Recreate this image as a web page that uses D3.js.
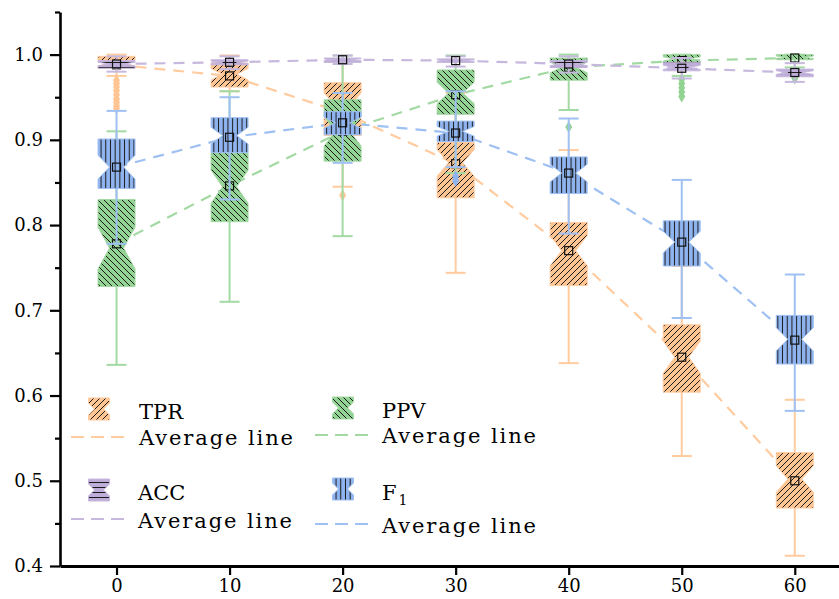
<!DOCTYPE html>
<head>
<meta charset="utf-8">
<title>Notched box plots</title>
<style>
  body { margin: 0; background: #fff; }
</style>
</head>
<body>
<svg width="839" height="599"></svg>
<script src="https://cdnjs.cloudflare.com/ajax/libs/d3/7.8.5/d3.min.js"></script>
<script>
// x categories
var rates = [0, 10, 20, 30, 40, 50, 60];
var yTicks = [0.4, 0.5, 0.6, 0.7, 0.8, 0.9, 1.0];

// box stats per rate: [lower whisker, q1, median, q3, upper whisker]
var tprStats = [
  [0.975, 0.984, 0.990, 0.998, 1.000],
  [0.957, 0.962, 0.977, 0.990, 0.999],
  [0.845, 0.905, 0.940, 0.967, 0.995],
  [0.744, 0.832, 0.873, 0.897, 0.955],
  [0.638, 0.729, 0.770, 0.803, 0.888],
  [0.529, 0.604, 0.645, 0.683, 0.752],
  [0.412, 0.468, 0.502, 0.533, 0.595]
];
var tprMean = [0.988, 0.975, 0.932, 0.872, 0.770, 0.645, 0.500];
var tprOutliers = [[0.970, 0.966, 0.962, 0.958, 0.953, 0.948, 0.944, 0.940, 0.937], [], [0.835], [], [], [], []];

var ppvStats = [
  [0.636, 0.728, 0.773, 0.830, 0.910],
  [0.710, 0.804, 0.845, 0.885, 0.957],
  [0.787, 0.875, 0.910, 0.947, 0.999],
  [0.861, 0.930, 0.955, 0.982, 0.999],
  [0.935, 0.970, 0.985, 0.996, 1.000],
  [0.975, 0.990, 0.995, 1.000, 1.000],
  [0.985, 0.994, 0.997, 1.000, 1.000]
];
var ppvMean = [0.778, 0.846, 0.910, 0.953, 0.985, 0.993, 0.996];
var ppvOutliers = [[], [], [], [], [0.915], [0.971, 0.966, 0.961, 0.956, 0.951], [0.976, 0.972]];

var accStats = [
  [0.980, 0.984, 0.989, 0.993, 0.998],
  [0.983, 0.988, 0.991, 0.994, 0.998],
  [0.989, 0.991, 0.994, 0.996, 0.999],
  [0.986, 0.991, 0.993, 0.995, 0.998],
  [0.979, 0.985, 0.989, 0.993, 0.998],
  [0.972, 0.981, 0.985, 0.991, 0.996],
  [0.968, 0.974, 0.979, 0.983, 0.990]
];
var accMean = [0.989, 0.991, 0.994, 0.993, 0.989, 0.984, 0.979];
var accOutliers = [[], [], [], [], [], [], []];

var f1Stats = [
  [0.778, 0.843, 0.868, 0.901, 0.934],
  [0.830, 0.885, 0.905, 0.926, 0.950],
  [0.873, 0.906, 0.920, 0.933, 0.955],
  [0.868, 0.898, 0.910, 0.922, 0.957],
  [0.790, 0.837, 0.861, 0.880, 0.925],
  [0.691, 0.752, 0.780, 0.805, 0.853],
  [0.582, 0.637, 0.666, 0.694, 0.742]
];
var f1Mean = [0.868, 0.903, 0.920, 0.908, 0.861, 0.780, 0.665];
var f1Outliers = [[], [], [], [0.857, 0.852], [], [], []];

var FONT = "DejaVu Serif";

var svg = d3.select("svg");

var x = d3.scaleLinear().domain([-5, 64]).range([60, 840]);
var y = d3.scaleLinear().domain([0.4, 1.05]).range([566, 12]);

var series = [
  { name: "TPR", stats: tprStats, mean: tprMean, out: tprOutliers, fill: "#ffc592", line: "#ffcb9f", hatch: "fwd" },
  { name: "PPV", stats: ppvStats, mean: ppvMean, out: ppvOutliers, fill: "#93d393", line: "#a3d9a3", hatch: "back" },
  { name: "ACC", stats: accStats, mean: accMean, out: accOutliers, fill: "#bfadd9", line: "#c7b8de", hatch: "horiz" },
  { name: "F1",  stats: f1Stats,  mean: f1Mean,  out: f1Outliers,  fill: "#8fb4ef", line: "#9fc0f3", hatch: "vert" }
];

// hatch patterns
var defs = svg.append("defs");
series.forEach(function(s) {
  var w = 6, h = 6, d;
  if (s.hatch == "fwd") d = "M-1,1 l2,-2 M0,6 l6,-6 M5,7 l2,-2";
  if (s.hatch == "back") d = "M-1,5 l2,2 M0,0 l6,6 M5,-1 l2,2";
  if (s.hatch == "horiz") { h = 5; d = "M0,2.5 h6"; }
  if (s.hatch == "vert") { w = 4.7; d = "M2.35,0 v6"; }
  var p = defs.append("pattern")
      .attr("id", "hatch-" + s.name)
      .attr("patternUnits", "userSpaceOnUse")
      .attr("width", w).attr("height", h);
  p.append("rect").attr("width", w).attr("height", h).attr("fill", s.fill);
  p.append("path").attr("d", d).attr("stroke", "#1a1a1a").attr("stroke-width", 1);
});

// average lines behind the boxes
var avgLine = d3.line()
    .x(function(d, i) { return x(rates[i]); })
    .y(function(d) { return y(d); });

series.forEach(function(s) {
  svg.append("path")
      .datum(s.mean)
      .attr("fill", "none")
      .attr("stroke", s.line)
      .attr("stroke-width", 2.2)
      .attr("stroke-dasharray", "11,8")
      .attr("d", avgLine);
});

var half = 18.5, inset = 11.5, cap = 10;

function notchPath(cx, st) {
  var q1 = st[1], med = st[2], q3 = st[3];
  var nh = 0.24 * (q3 - q1);
  var yT = y(q3), yB = y(q1), yM = y(med), yNt = y(med + nh), yNb = y(med - nh);
  return "M" + (cx - half) + "," + yT + "H" + (cx + half) + "V" + yNt +
    "L" + (cx + half - inset) + "," + yM + "L" + (cx + half) + "," + yNb +
    "V" + yB + "H" + (cx - half) + "V" + yNb +
    "L" + (cx - half + inset) + "," + yM + "L" + (cx - half) + "," + yNt + "Z";
}

var diamond = d3.symbol().type(d3.symbolDiamond).size(42);

series.forEach(function(s) {
  var g = svg.append("g").attr("class", "series-" + s.name);
  rates.forEach(function(r, i) {
    var cx = x(r), st = s.stats[i];
    // whiskers
    g.append("line").attr("x1", cx).attr("x2", cx)
        .attr("y1", y(st[4])).attr("y2", y(st[3]))
        .attr("stroke", s.line).attr("stroke-width", 2);
    g.append("line").attr("x1", cx).attr("x2", cx)
        .attr("y1", y(st[1])).attr("y2", y(st[0]))
        .attr("stroke", s.line).attr("stroke-width", 2);
    [st[0], st[4]].forEach(function(v) {
      g.append("line").attr("x1", cx - cap).attr("x2", cx + cap)
          .attr("y1", y(v)).attr("y2", y(v))
          .attr("stroke", s.line).attr("stroke-width", 2);
    });
    // box
    g.append("path")
        .attr("d", notchPath(cx, st))
        .attr("fill", "url(#hatch-" + s.name + ")")
        .attr("stroke", s.line)
        .attr("stroke-width", 1);
    // outliers
    s.out[i].forEach(function(v) {
      g.append("path")
          .attr("d", diamond)
          .attr("transform", "translate(" + cx + "," + y(v) + ")")
          .attr("fill", s.fill);
    });
    // mean
    g.append("rect")
        .attr("x", cx - 4).attr("y", y(s.mean[i]) - 4)
        .attr("width", 8).attr("height", 8)
        .attr("fill", "none")
        .attr("stroke", "#111")
        .attr("stroke-width", 1.2);
  });
});

// axes
var yMinor = d3.axisLeft(y).tickValues(d3.range(0.45, 1.05, 0.1)).tickSize(5).tickSizeOuter(0).tickFormat("");
var yMajor = d3.axisLeft(y).tickValues(yTicks).tickSize(10).tickSizeOuter(0).tickPadding(7)
    .tickFormat(d3.format(".1f"));

svg.append("g").attr("transform", "translate(60,0)").call(yMinor)
    .call(function(g) { g.select(".domain").remove(); })
    .selectAll("line").attr("stroke-width", 2.2);

var ya = svg.append("g").attr("transform", "translate(60,0)").call(yMajor);
ya.attr("font-family", FONT).attr("font-size", 18);
ya.select(".domain").attr("stroke-width", 2.6);
ya.selectAll("line").attr("stroke-width", 2.2);
ya.selectAll("text").attr("fill", "#000");

var xa = svg.append("g").attr("transform", "translate(0,566)")
    .call(d3.axisBottom(x).tickValues(rates).tickSize(9).tickSizeOuter(0).tickPadding(4));
xa.attr("font-family", FONT).attr("font-size", 18);
xa.select(".domain").attr("stroke-width", 3);
xa.selectAll("line").attr("stroke-width", 2.2);
xa.selectAll("text").attr("fill", "#000");

// legend
var legendPos = [
  { s: 0, ix: 99, iy: 409, tx: 139, ty: 419, ly: 437, lty: 445 },
  { s: 1, ix: 343, iy: 408, tx: 382, ty: 418, ly: 435, lty: 443 },
  { s: 2, ix: 99, iy: 490, tx: 138, ty: 500, ly: 519, lty: 528 },
  { s: 3, ix: 343, iy: 489, tx: 382, ty: 500, ly: 524, lty: 533 }
];

var lg = svg.append("g").attr("class", "legend")
    .attr("font-family", FONT).attr("font-size", 21);
legendPos.forEach(function(p) {
  var s = series[p.s];
  var hw = 10.5, hh = 11, ni = 6;
  var d = "M" + (p.ix - hw) + "," + (p.iy - hh) + "H" + (p.ix + hw) + "V" + (p.iy - 6) +
    "L" + (p.ix + hw - ni) + "," + p.iy + "L" + (p.ix + hw) + "," + (p.iy + 6) + "V" + (p.iy + hh) +
    "H" + (p.ix - hw) + "V" + (p.iy + 6) + "L" + (p.ix - hw + ni) + "," + p.iy +
    "L" + (p.ix - hw) + "," + (p.iy - 6) + "Z";
  lg.append("path").attr("d", d)
      .attr("fill", "url(#hatch-" + s.name + ")")
      .attr("stroke", s.line).attr("stroke-width", 1);

  var t = lg.append("text")
      .attr("x", p.tx).attr("y", p.ty);
  if (s.name == "F1") {
    t.append("tspan").text("F");
    t.append("tspan").attr("font-size", 14).attr("dx", 2).attr("dy", 5).text("1");
  } else {
    t.text(s.name);
  }

  lg.append("line")
      .attr("x1", p.ix - 28).attr("x2", p.ix + 28)
      .attr("y1", p.ly).attr("y2", p.ly)
      .attr("stroke", s.line).attr("stroke-width", 2.2)
      .attr("stroke-dasharray", "13,7");
  lg.append("text")
      .attr("x", p.tx).attr("y", p.lty)
      .attr("textLength", 154)
      .attr("lengthAdjust", "spacing")
      .text("Average line");
});
</script>
</body>
